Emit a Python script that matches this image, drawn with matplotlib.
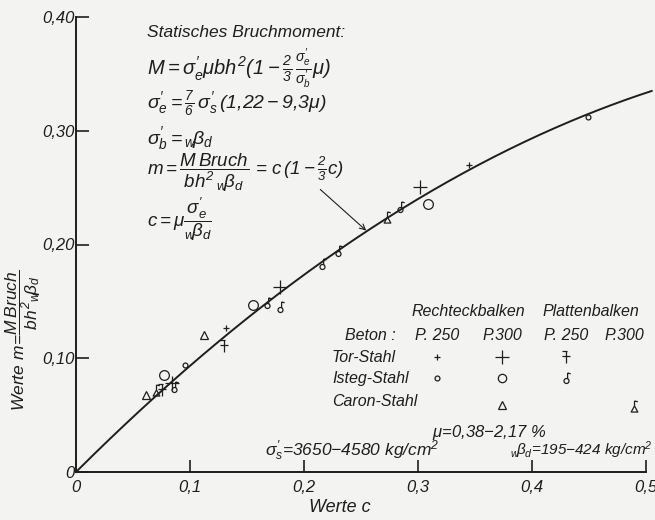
import numpy as np
import matplotlib
matplotlib.use("Agg")
import matplotlib.pyplot as plt
from matplotlib.path import Path

plt.rcParams['font.family'] = ['Liberation Sans', 'DejaVu Sans']
plt.rcParams['font.style'] = 'italic'
plt.rcParams['mathtext.fontset'] = 'custom'
plt.rcParams['mathtext.it'] = 'Liberation Sans:italic'
plt.rcParams['mathtext.rm'] = 'Liberation Sans:italic'
plt.rcParams['mathtext.sf'] = 'Liberation Sans:italic'

ink = '#1e1e1e'
paper = '#f3f3f1'

# measured points (c, m)
tor250_c = [0.1316, 0.345]
tor250_m = [0.1263, 0.2698]
tor300_c = [0.0838, 0.179, 0.3018]
tor300_m = [0.0786, 0.1623, 0.2502]
torpl_c = [0.0757, 0.1298]
torpl_m = [0.0725, 0.1107]
isteg250_c = [0.0952, 0.4494]
isteg250_m = [0.0943, 0.3122]
isteg300_c = [0.0775, 0.1555, 0.3085]
isteg300_m = [0.0855, 0.1467, 0.2352]
istegpl_c = [0.086, 0.1673, 0.179, 0.2158, 0.230, 0.2842]
istegpl_m = [0.075, 0.1482, 0.1453, 0.1832, 0.194, 0.2326]
caron300_c = [0.0614, 0.1123]
caron300_m = [0.0677, 0.1204]
caronpl_c = [0.070, 0.2725]
caronpl_m = [0.072, 0.2243]

x_ticks = [0, 0.1, 0.2, 0.3, 0.4, 0.5]
x_labels = ['0', '0,1', '0,2', '0,3', '0,4', '0,5']
y_ticks = [0, 0.1, 0.2, 0.3, 0.4]
y_labels = ['0', '0,10', '0,20', '0,30', '0,40']

# legend table
col_heads = ['P. 250', 'P.300', 'P. 250', 'P.300']
col_x = [0.3167, 0.3737, 0.4298, 0.4807]
row_names = ['Tor-Stahl', 'Isteg-Stahl', 'Caron-Stahl']
row_y = [0.1008, 0.0823, 0.0618]


# custom "Plattenbalken" symbols (flagged markers)
def flag_plus():
    v = [(0, -1), (0, 1), (-0.8, 0.15), (0.8, 0.15), (-0.7, 1), (0.2, 1)]
    c = [Path.MOVETO, Path.LINETO] * 3
    return Path(v, c)


def flag_circle():
    circ = Path.circle((0, -0.45), 0.45)
    line = Path([(0.2, -0.05), (0.2, 1), (0.2, 1), (0.75, 0.85)],
                [Path.MOVETO, Path.LINETO, Path.MOVETO, Path.LINETO])
    return Path.make_compound_path(circ, line)


def flag_triangle():
    tri = Path([(-0.6, -1), (0.6, -1), (0, 0.1), (-0.6, -1)],
               [Path.MOVETO, Path.LINETO, Path.LINETO, Path.CLOSEPOLY])
    line = Path([(0, 0.1), (0, 1), (0, 1), (0.6, 0.85)],
                [Path.MOVETO, Path.LINETO, Path.MOVETO, Path.LINETO])
    return Path.make_compound_path(tri, line)


fig = plt.figure(figsize=(6.55, 5.2), dpi=100, facecolor=paper)
ax = fig.add_axes([76 / 655, 48 / 520, 570 / 655, 455 / 520])
ax.set_facecolor(paper)

c = np.linspace(0, 0.505, 300)
ax.plot(c, c * (1 - 2 / 3 * c), color=ink, lw=1.4, clip_on=False)

kw = dict(ls='none', color=ink, mfc='none', clip_on=False)
ax.plot(tor250_c, tor250_m, marker='+', ms=5, mew=0.9, **kw)
ax.plot(tor300_c, tor300_m, marker='+', ms=10, mew=0.9, **kw)
ax.plot(torpl_c, torpl_m, marker=flag_plus(), ms=8, mew=0.9, **kw)
ax.plot(isteg250_c, isteg250_m, marker='o', ms=3.5, mew=0.9, **kw)
ax.plot(isteg300_c, isteg300_m, marker='o', ms=7, mew=0.9, **kw)
ax.plot(istegpl_c, istegpl_m, marker=flag_circle(), ms=8, mew=0.9, **kw)
ax.plot(caron300_c, caron300_m, marker='^', ms=6, mew=0.9, **kw)
ax.plot(caronpl_c, caronpl_m, marker=flag_triangle(), ms=8, mew=0.9, **kw)

ax.set_xlim(0, 0.5)
ax.set_ylim(0, 0.4)
for s in ['top', 'right']:
    ax.spines[s].set_visible(False)
for s in ['left', 'bottom']:
    ax.spines[s].set_linewidth(1.4)
    ax.spines[s].set_color(ink)
ax.set_xticks(x_ticks)
ax.set_xticklabels(x_labels)
ax.set_yticks(y_ticks)
ax.set_yticklabels(y_labels)
ax.tick_params(direction='in', length=9, width=1.2, color=ink,
               labelcolor=ink, labelsize=12)
ax.tick_params(axis='x', pad=6)
ax.tick_params(axis='y', pad=1)

fs = 11.5
# formulas
ax.text(0.062, 0.386, 'Statisches Bruchmoment:', fontsize=12.5, color=ink, va='center')
ax.text(0.062, 0.355,
        r'$M=\sigma_e^{\prime}\mu bh^2(1-\frac{2}{3}\,\frac{\sigma_e^{\prime}}{\sigma_b^{\prime}}\mu)$',
        fontsize=14.5, color=ink, va='center')
ax.text(0.062, 0.3235,
        r'$\sigma_e^{\prime}=\frac{7}{6}\,\sigma_s^{\prime}\,(1{,}22-9{,}3\mu)$',
        fontsize=14, color=ink, va='center')
ax.text(0.062, 0.2935, r'$\sigma_b^{\prime}={}_w\!\beta_d$',
        fontsize=14, color=ink, va='center')
ax.text(0.062, 0.2635,
        r'$m=\dfrac{M\,Bruch}{bh^2\,{}_w\!\beta_d}\,=\,c\,(1-\frac{2}{3}c)$',
        fontsize=13.5, color=ink, va='center')
ax.text(0.062, 0.222, r'$c=\mu\dfrac{\sigma_e^{\prime}}{{}_w\!\beta_d}$',
        fontsize=13.5, color=ink, va='center')
ax.annotate('', xy=(0.2564, 0.2106), xytext=(0.2125, 0.250),
            arrowprops=dict(arrowstyle='->', color=ink, lw=0.8))

# legend table
ax.text(0.344, 0.141, 'Rechteckbalken', fontsize=fs, color=ink, ha='center', va='center')
ax.text(0.452, 0.141, 'Plattenbalken', fontsize=fs, color=ink, ha='center', va='center')
ax.text(0.236, 0.120, 'Beton :', fontsize=fs, color=ink, va='center')
for x, h in zip(col_x, col_heads):
    ax.text(x, 0.120, h, fontsize=fs, color=ink, ha='center', va='center')
for y, r in zip(row_y, row_names):
    ax.text(0.2246, y, r, fontsize=fs, color=ink, va='center')
ax.plot(col_x[0], row_y[0], marker='+', ms=5, mew=0.9, **kw)
ax.plot(col_x[1], row_y[0], marker='+', ms=10, mew=0.9, **kw)
ax.plot(col_x[2], row_y[0], marker=flag_plus(), ms=8, mew=0.9, **kw)
ax.plot(col_x[0], row_y[1], marker='o', ms=3.5, mew=0.9, **kw)
ax.plot(col_x[1], row_y[1], marker='o', ms=6, mew=0.9, **kw)
ax.plot(col_x[2], row_y[1], marker=flag_circle(), ms=8, mew=0.9, **kw)
ax.plot(col_x[1], row_y[2] - 0.003, marker='^', ms=6, mew=0.9, **kw)
ax.plot(col_x[3] + 0.009, row_y[2] - 0.004, marker=flag_triangle(), ms=8, mew=0.9, **kw)

ax.text(0.312, 0.035, r'$\mu$=0,38$-$2,17 %', fontsize=12, color=ink, va='center')
ax.text(0.166, 0.019, r'$\sigma_s^{\prime}$=3650$-$4580 kg/cm$^2$',
        fontsize=12.5, color=ink, va='center')
ax.text(0.381, 0.019, r'${}_w\!\beta_d$=195$-$424 kg/cm$^2$',
        fontsize=11, color=ink, va='center')

fig.text(23 / 655, 1 - 340 / 520,
         r'Werte $m\!=\!\dfrac{M\,Bruch}{bh^2{}_w\!\beta_d}$',
         rotation=90, fontsize=12.5, color=ink, ha='center', va='center')
fig.text(340 / 655, 1 - 508 / 520, 'Werte c', fontsize=13, color=ink,
         ha='center', va='center')

fig.savefig('out.png', dpi=100, facecolor=paper)
